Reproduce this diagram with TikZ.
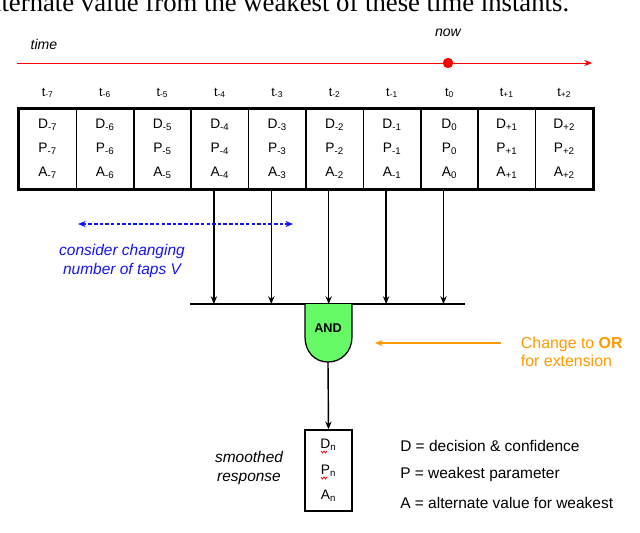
\documentclass[tikz,border=0pt]{standalone}
\usepackage{fontspec}
\setmainfont{Liberation Serif}
\setsansfont{Liberation Sans}
\usetikzlibrary{arrows.meta}

\definecolor{gategreen}{RGB}{102,250,102}
\definecolor{hintorange}{RGB}{255,153,0}
\definecolor{tapblue}{RGB}{20,20,240}

\tikzset{
    cell/.style={draw, line width=1pt, minimum width=1.435cm, minimum height=2cm,
        inner sep=0pt, align=center, font=\sffamily\fontsize{9.8}{17}\selectfont},
    tick/.style={font=\sffamily\fontsize{9}{10}\selectfont},
    tap/.style={->, line width=1pt},
    note/.style={font=\sffamily\itshape\fontsize{11}{13}\selectfont, align=center},
    legend/.style={anchor=west, font=\sffamily\fontsize{11}{12}\selectfont, inner sep=0pt}
}

\begin{document}
\begin{tikzpicture}[x=0.025cm, y=-0.025cm, >={Stealth[length=5.5pt, width=4.5pt]}]
    \useasboundingbox (0,0) rectangle (640,533);

    % caption line, cut at the top edge
    \node[anchor=base west, inner sep=0pt, font=\rmfamily\fontsize{19}{21}\selectfont] (caption) at (-18,11)
        {alternate value from the weakest of these time instants.};

    % time axis
    \node[note, font=\sffamily\itshape\fontsize{10}{12}\selectfont] (timelbl) at (44,44) {time};
    \node[note, font=\sffamily\itshape\fontsize{10}{12}\selectfont] (nowlbl) at (448,33) {now};
    \coordinate (axisL) at (17,63);
    \coordinate (axisR) at (592,63);
    \draw[red, ->, line width=0.7pt] (axisL) -- (axisR);
    \node[circle, fill=red, inner sep=0pt, minimum size=2.6mm] (now) at (448,63) {};

    % cells of the time instants
    \foreach \s [count=\k from 0] in {-7,-6,-5,-4,-3,-2,-1,0,+1,+2} {
        \node[cell] (c\k) at (47.7+57.4*\k,149)
            {D\textsubscript{\s}\\P\textsubscript{\s}\\A\textsubscript{\s}};
        \node[tick] (t\k) at (47.7+57.4*\k,93) {t\textsubscript{\s}};
    }
    \draw[line width=1.4pt] (c0.north west) rectangle (c9.south east);

    % taps into the bar
    \coordinate (barL) at (190,304);
    \coordinate (barR) at (465,304);
    \draw[line width=1.3pt] (barL) -- (barR);
    \foreach \k in {3,...,7} {
        \draw[tap] ([xshift=-0.15cm]c\k.south) -- ([xshift=-0.15cm]c\k.south |- barL);
    }

    % AND gate
    \coordinate (gateout) at (328,362);
    \draw[fill=gategreen, line width=0.9pt] (305,304) -- (305,337)
        .. controls (305,352) and (315,362) .. (gateout)
        .. controls (341,362) and (352,352) .. (352,337) -- (352,304);
    \node[font=\sffamily\bfseries\fontsize{9}{10}\selectfont] (andlbl) at (328,328) {AND};

    % smoothed output
    \node[cell, minimum width=1.175cm, minimum height=2.025cm, font=\sffamily\fontsize{9.8}{18}\selectfont] (out) at (328.5,470.5)
        {D\textsubscript{n}\\P\textsubscript{n}\\A\textsubscript{n}};
    \draw[tap] (gateout) -- (out.north);
    \foreach \y in {451,477} {
        \draw[red, line width=0.5pt] (321,\y) -- (322.5,\y+2) -- (324,\y) -- (325.5,\y+2) -- (327,\y);
    }
    \node[note] (smooth) at (249,468) {smoothed\\response};

    % legend
    \node[legend] (legD) at (400,446) {D = decision \& confidence};
    \node[legend] (legP) at (400,474) {P = weakest parameter};
    \node[legend] (legA) at (400,503) {A = alternate value for weakest};

    % number of taps
    \coordinate (spanL) at (78,224);
    \coordinate (spanR) at (293,224);
    \draw[tapblue, <->, dash pattern=on 2.5pt off 1.5pt, line width=0.8pt] (spanL) -- (spanR);
    \node[note, text=tapblue] (taplbl) at (122,261) {consider changing\\number of taps V};

    % OR hint
    \coordinate (hintL) at (375,343);
    \coordinate (hintR) at (501,343);
    \draw[hintorange, ->, line width=0.8pt] (hintR) -- (hintL);
    \node[anchor=west, align=left, text=hintorange, font=\sffamily\fontsize{11.3}{13}\selectfont] (orlbl) at (516,352)
        {Change to \textbf{OR}\\for extension};
\end{tikzpicture}
\end{document}
